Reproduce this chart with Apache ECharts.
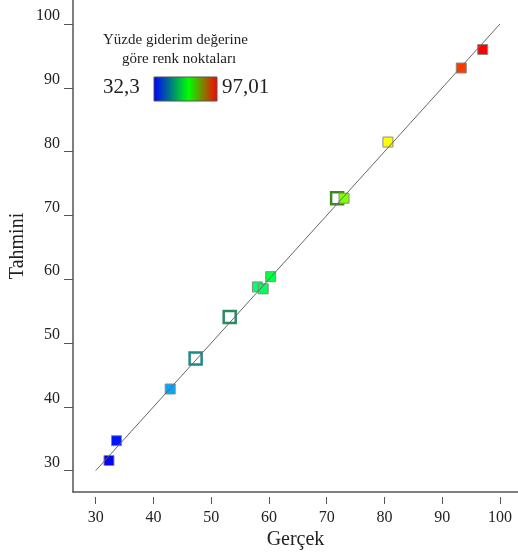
<!DOCTYPE html>
<html>
<head>
<meta charset="utf-8">
<script src="https://cdn.jsdelivr.net/npm/echarts@6/dist/echarts.min.js"></script>
<style>html,body{margin:0;padding:0;background:#fff}#c{width:518px;height:555px}</style>
</head>
<body>
<div id="c"></div>
<script>
// Filled points (colored by actual value)
var actual = [32.3, 33.6, 42.9, 58.0, 59.0, 60.3, 73.0, 80.6, 93.3, 97.01];
var predicted = [31.6, 34.7, 42.8, 58.8, 58.5, 60.4, 72.7, 81.5, 93.1, 96.0];
// Hollow (replicate) points
var actualH = [47.3, 53.2, 71.8];
var predictedH = [47.6, 54.1, 72.7];
var hollowColors = ['#1f8888', '#2a8a60', '#3c8a1c'];
// Reference line y = x
var lineX = [30, 100];
var lineY = [30, 100];
var tickValues = [30, 40, 50, 60, 70, 80, 90, 100];
var legendMin = '32,3', legendMax = '97,01';
var vmMin = 32.3, vmMax = 97.01;

var font = '"Liberation Serif", "Times New Roman", serif';
var chart = echarts.init(document.getElementById('c'));

var filled = actual.map(function (v, i) { return [v, predicted[i]]; });
var hollow = actualH.map(function (v, i) {
  return { value: [v, predictedH[i]], itemStyle: { borderColor: hollowColors[i] } };
});
var line = lineX.map(function (v, i) { return [v, lineY[i]]; });

chart.setOption({
  animation: false,
  grid: { left: 73, right: 0, top: 0, bottom: 63, containLabel: false, outerBoundsMode: 'none' },
  xAxis: [{
    type: 'value', min: 26.07, max: 103.12,
    axisLine: { show: true, lineStyle: { color: '#555', width: 1.5 } },
    axisTick: { show: false }, axisLabel: { show: false }, splitLine: { show: false }
  }, {
    type: 'value', min: 26.07, max: 103.12, position: 'bottom', offset: 5,
    axisLine: { show: false },
    axisTick: { show: true, length: 7, lineStyle: { color: '#555' }, customValues: tickValues },
    axisLabel: { show: true, margin: 13, fontFamily: font, fontSize: 16, color: '#222', customValues: tickValues },
    splitLine: { show: false },
    name: 'Gerçek', nameLocation: 'middle', nameGap: 33, nameMoveOverlap: false,
    nameTextStyle: { fontFamily: font, fontSize: 20, color: '#222' }
  }],
  yAxis: {
    type: 'value', min: 26.66, max: 103.76,
    axisLine: { show: true, lineStyle: { color: '#555', width: 1.5 } },
    axisTick: { show: true, length: 9, lineStyle: { color: '#555' }, customValues: tickValues },
    axisLabel: { show: true, margin: 13, fontFamily: font, fontSize: 16, color: '#222', verticalAlign: 'bottom', customValues: tickValues },
    splitLine: { show: false },
    name: 'Tahmini', nameLocation: 'middle', nameGap: 45, nameMoveOverlap: false,
    nameTextStyle: { fontFamily: font, fontSize: 20, color: '#222' }
  },
  visualMap: {
    type: 'continuous', show: false, min: vmMin, max: vmMax, dimension: 0, seriesIndex: 1,
    inRange: { color: ['#0000ff', '#00ffff', '#00ff00', '#ffff00', '#ff0000'] }
  },
  series: [{
    type: 'scatter', data: hollow, symbol: 'rect', symbolSize: 12, z: 2,
    itemStyle: { color: '#ffffff', borderWidth: 2.5, opacity: 1 }
  }, {
    type: 'scatter', data: filled, symbol: 'rect', symbolSize: 10, z: 3,
    itemStyle: { borderColor: '#8a8a8a', borderWidth: 1, opacity: 1 }
  }, {
    type: 'line', data: line, symbol: 'none', z: 5,
    lineStyle: { color: '#666', width: 1 }
  }],
  graphic: [
    { type: 'text', left: 103, top: 33, style: { text: 'Yüzde giderim değerine', font: '15px ' + font, fill: '#222' } },
    { type: 'text', left: 122, top: 52, style: { text: 'göre renk noktaları', font: '15px ' + font, fill: '#222' } },
    { type: 'text', left: 103, top: 77, style: { text: legendMin, font: '21px ' + font, fill: '#222' } },
    { type: 'text', left: 222, top: 77, style: { text: legendMax, font: '21px ' + font, fill: '#222' } },
    { type: 'rect', shape: { x: 154, y: 77, width: 63, height: 24 },
      style: { stroke: '#555', lineWidth: 1,
        fill: new echarts.graphic.LinearGradient(0, 0, 1, 0, [
          { offset: 0, color: '#0000ff' }, { offset: 0.55, color: '#00ff00' }, { offset: 1, color: '#ff0000' }
        ]) } }
  ]
});
</script>
</body>
</html>
